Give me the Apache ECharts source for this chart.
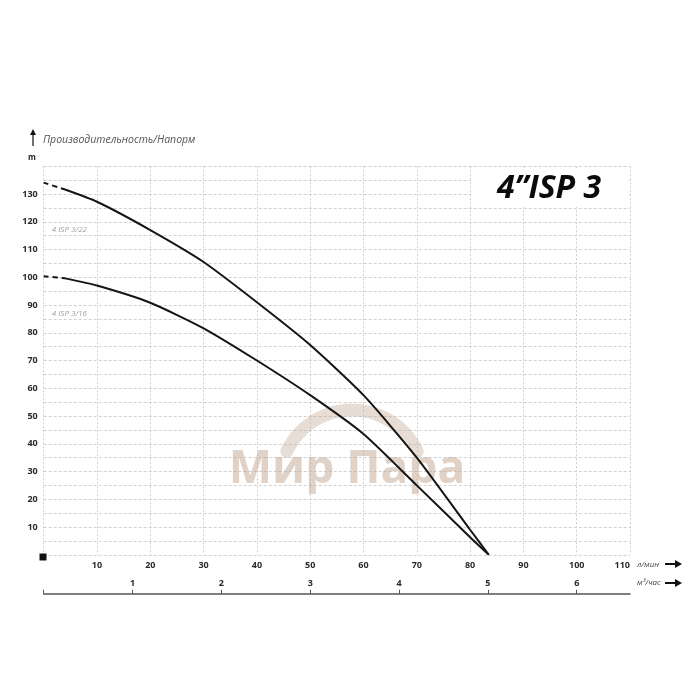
<!DOCTYPE html>
<html><head><meta charset="utf-8">
<script src="https://cdn.jsdelivr.net/npm/echarts@6/dist/echarts.min.js"></script>
<style>html,body{margin:0;padding:0;background:#fff}#c{width:700px;height:700px}</style>
</head><body><div id="c"></div>
<script>
// ---- data ----
var curveNames = ['4 ISP 3/22', '4 ISP 3/16'];
var dashFlow = [0, 4];
var upperDash = [134.1, 131.6];
var lowerDash = [100.4, 99.6];
var flowLpm = [4, 10, 20, 30, 40, 50, 60, 70, 80, 83.5];
var upperHead = [131.6, 127.2, 117, 105.5, 91, 75.6, 57.5, 35, 9, 0];
var lowerHead = [99.6, 97, 90.8, 81.6, 70, 57.5, 43.5, 25, 6.3, 0];
var labelPos = [[1.5, 117], [1.5, 87]];
var m3hMax = 6.6;
var title = '4\u201DISP 3';
var yName = 'Производительность/Напорм';

function pairs(xs, ys){ return xs.map(function(x,i){return [x, ys[i]];}); }

var font = '"Open Sans", "Liberation Sans", sans-serif';
var chart = echarts.init(document.getElementById('c'), null, {renderer:'canvas'});

function mkSeries(name, xs, ys, dashed, lbl){
  var s = {
    type:'line', name:name, data:pairs(xs, ys), smooth:0.2, symbol:'none',
    xAxisIndex:0, yAxisIndex:0, z:5,
    lineStyle:{color:'#151515', width:2, type: dashed ? [5,4] : 'solid'}
  };
  if (lbl) {
    s.markPoint = {
      symbol:'circle', symbolSize:0,
      data:[{coord:lbl, name:name}],
      label:{show:true, position:'right', distance:0, formatter:'{b}',
        color:'#a0a0a0', fontStyle:'italic', fontSize:8, fontFamily:font}
    };
  }
  return s;
}

var option = {
  animation:false,
  backgroundColor:'#fff',
  grid:{left:43.7, right:70, top:166.25, bottom:145.25, containLabel:false},
  xAxis:[{
    type:'value', min:0, max:110, interval:10, position:'bottom',
    axisLine:{show:false}, axisTick:{show:false},
    axisLabel:{margin:6, fontSize:9, fontWeight:'bold', color:'#2a2a2a', fontFamily:font,
      alignMaxLabel:'right',
      formatter:function(v){return v===0?'':String(v);}},
    splitLine:{show:true, lineStyle:{color:'#d0d0d0', type:[2,2], width:1}}
  },{
    type:'value', min:0, max:m3hMax, interval:1, position:'bottom', offset:39,
    axisLine:{show:true, lineStyle:{color:'#555', width:1.5}},
    axisTick:{show:true, inside:true, length:4, lineStyle:{color:'#555'}},
    axisLabel:{inside:true, margin:6, fontSize:9, fontWeight:'bold', color:'#2a2a2a', fontFamily:font,
      showMaxLabel:false,
      formatter:function(v){return (v===0||v>6)?'':String(v);}},
    splitLine:{show:false}
  }],
  yAxis:[{
    type:'value', min:0, max:140, interval:5,
    axisLine:{show:false}, axisTick:{show:false},
    axisLabel:{margin:6, fontSize:9, fontWeight:'bold', color:'#2a2a2a', fontFamily:font,
      formatter:function(v){return (v%10===0 && v!==0 && v!==140)?String(v):'';}},
    splitLine:{show:true, lineStyle:{color:'#d0d0d0', type:[3,2], width:1}}
  }],
  series:[
    mkSeries(curveNames[0]+' dash', dashFlow, upperDash, true),
    mkSeries(curveNames[0], flowLpm, upperHead, false, labelPos[0]),
    mkSeries(curveNames[1]+' dash', dashFlow, lowerDash, true),
    mkSeries(curveNames[1], flowLpm, lowerHead, false, labelPos[1])
  ],
  graphic:[
    // watermark
    {type:'arc', z:1, shape:{cx:352, cy:482, r:72, startAngle:-Math.PI*0.86, endAngle:-Math.PI*0.14},
      style:{stroke:'rgba(196,170,150,0.4)', lineWidth:13, fill:null, lineCap:'round'}},
    {type:'text', z:1, x:347, y:470, style:{text:'Мир Пара', font:'bold 46px '+font,
      fill:'rgba(196,165,145,0.5)', align:'center', verticalAlign:'middle'}},
    // title box
    {type:'rect', z:3, shape:{x:471, y:168, width:158, height:39}, style:{fill:'#fff'}},
    {type:'text', z:4, x:549, y:189, style:{text:title, font:'italic bold 32px '+font,
      fill:'#0a0a0a', align:'center', verticalAlign:'middle'}},
    // y axis name and arrow
    {type:'line', z:4, shape:{x1:33, y1:146, x2:33, y2:133}, style:{stroke:'#111', lineWidth:1.2}},
    {type:'polygon', z:4, shape:{points:[[30,135],[33,129],[36,135]]}, style:{fill:'#111'}},
    {type:'text', z:4, x:43, y:140, style:{text:yName, font:'italic 10.5px '+font,
      fill:'#555', verticalAlign:'middle'}},
    {type:'text', z:4, x:32, y:158, style:{text:'m', font:'bold 8px '+font,
      fill:'#222', align:'center', verticalAlign:'middle'}},
    // origin square
    {type:'rect', z:4, shape:{x:39.5, y:553.5, width:7, height:7}, style:{fill:'#111'}},
    // axis unit names + arrows
    {type:'text', z:4, x:637, y:565, style:{text:'л/мин', font:'italic 8px '+font,
      fill:'#444', verticalAlign:'middle'}},
    {type:'line', z:4, shape:{x1:665, y1:564, x2:677, y2:564}, style:{stroke:'#111', lineWidth:2}},
    {type:'polygon', z:4, shape:{points:[[675,560],[682,564],[675,568]]}, style:{fill:'#111'}},
    {type:'text', z:4, x:637, y:583, style:{text:'м³/час', font:'italic 8px '+font,
      fill:'#444', verticalAlign:'middle'}},
    {type:'line', z:4, shape:{x1:665, y1:583, x2:677, y2:583}, style:{stroke:'#111', lineWidth:2}},
    {type:'polygon', z:4, shape:{points:[[675,579],[682,583],[675,587]]}, style:{fill:'#111'}}
  ]
};
chart.setOption(option);
</script>
</body></html>
